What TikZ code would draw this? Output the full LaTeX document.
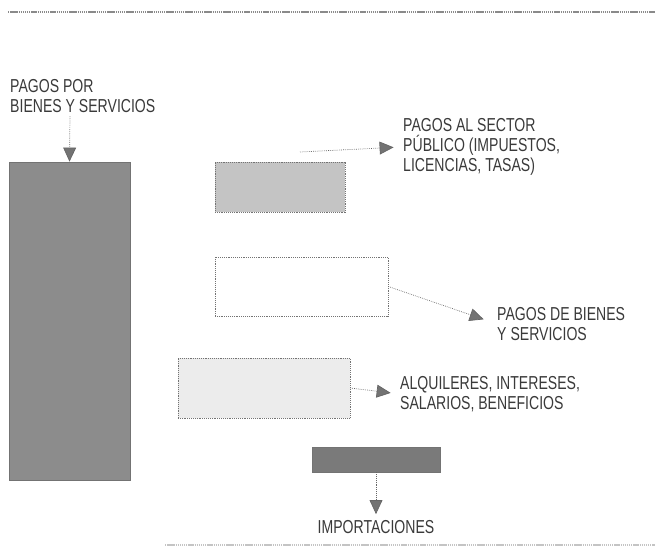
\documentclass[tikz,border=0pt]{standalone}
\usepackage{fontspec}
\setmainfont{Liberation Sans}[FakeStretch=0.75]
\usepackage{tikz}
\usetikzlibrary{arrows.meta,positioning}
\definecolor{FlowInk}{HTML}{3A3A3A}
\definecolor{FlowDark}{HTML}{8C8C8C}
\definecolor{FlowMid}{HTML}{7A7A7A}
\definecolor{FlowSoft}{HTML}{C4C4C4}
\definecolor{FlowPale}{HTML}{ECECEC}
\definecolor{FlowRule}{HTML}{8A8A8A}
\tikzset{
  flowlabel/.style={font=\fontsize{16}{17.2}\selectfont, text=FlowInk, inner sep=0pt, align=left},
  flowbox/.style={draw=black!55, densely dotted, line width=0.6pt, inner sep=0pt},
  flowarrow/.style={draw=black!60, densely dotted, line width=0.6pt,
    -{Triangle[length=12pt, width=11pt, fill=black!55]}, shorten >=8pt},
  flowrule/.style={draw=FlowRule, line width=1.4pt, dash pattern=on 1.2pt off 0.6pt}
}
\begin{document}
\begin{tikzpicture}[x=0.03cm, y=-0.03cm, every node/.style={flowlabel}]
\useasboundingbox (0,0) rectangle (655,553);
\draw[flowrule] (8,12) -- (655,12);
\draw[flowrule, draw=FlowSoft, line width=1pt] (165,545) -- (655,545);
\node[flowbox, solid, fill=FlowDark, minimum width=3.63cm, minimum height=9.54cm] (flow) at (69.5,321) {};
\node[flowbox, fill=FlowSoft, minimum width=3.9cm, minimum height=1.5cm] (pub) at (280,187) {};
\node[flowbox, fill=white, minimum width=5.19cm, minimum height=1.77cm] (goods) at (301.5,286.5) {};
\node[flowbox, fill=FlowPale, minimum width=5.16cm, minimum height=1.8cm] (fact) at (264,388) {};
\node[flowbox, solid, fill=FlowMid, minimum width=3.84cm, minimum height=0.75cm] (imp) at (376,459.5) {};
\node[anchor=north west] (lblin) at (10,79) {PAGOS POR\\BIENES Y SERVICIOS};
\node[anchor=north west] (lblpub) at (403,118) {PAGOS AL SECTOR\\PÚBLICO (IMPUESTOS,\\LICENCIAS, TASAS)};
\node[anchor=north west] (lblgoods) at (497,307) {PAGOS DE BIENES\\Y SERVICIOS};
\node[anchor=north west] (lblfact) at (400,376) {ALQUILERES, INTERESES,\\SALARIOS, BENEFICIOS};
\node[anchor=north] (lblimp) at (376,520) {IMPORTACIONES};
\coordinate (intop) at (70,116);
\coordinate (pubout) at (300,152);
\draw[flowarrow, shorten >=0pt] (intop) -- (flow.north);
\draw[flowarrow] (pubout) -- (lblpub.west);
\draw[flowarrow, shorten >=12pt] (goods.east) -- (lblgoods.west);
\draw[flowarrow] (fact.east) -- (lblfact.west);
\draw[flowarrow, shorten >=5pt] (imp.south) -- (lblimp.north);
\end{tikzpicture}
\end{document}
